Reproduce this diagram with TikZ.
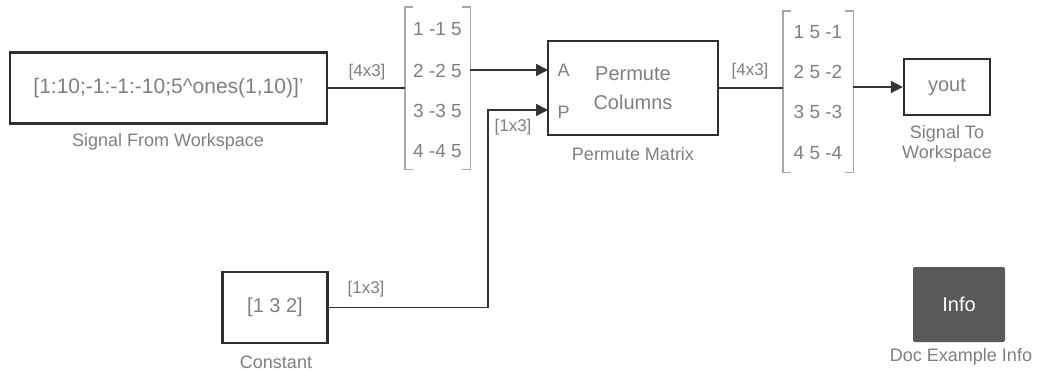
\documentclass[tikz,border=0pt]{standalone}
\usepackage{fontspec}
\setmainfont{Liberation Sans}
\usepackage{xcolor}
\usepackage{tikz}
\usetikzlibrary{arrows.meta,positioning,calc}

\definecolor{txtgray}{HTML}{7F7F7F}
\definecolor{blkline}{HTML}{2E2E2E}
\definecolor{wire}{HTML}{333333}
\definecolor{brkgray}{HTML}{A8A8A8}
\definecolor{infofill}{HTML}{595959}

\begin{document}
\begin{tikzpicture}[x=1pt, y=-1pt,
  every node/.style={font=\fontsize{18}{20}\selectfont, text=txtgray},
  blk/.style={draw=blkline, line width=2.2pt, fill=white, inner sep=0pt,
    font=\fontsize{20}{29}\selectfont},
  sig/.style={draw=wire, line width=1.6pt},
  sigarr/.style={sig, -{Triangle[length=12pt,width=12pt]}},
  dimlbl/.style={font=\fontsize{17}{19}\selectfont},
  rowtxt/.style={font=\fontsize{19}{21}\selectfont},
  brk/.style={draw=brkgray, line width=1.4pt}]
  \useasboundingbox (0,0) rectangle (1037,370);

  % Signal From Workspace
  \node[blk, minimum width=317pt, minimum height=71pt, font=\fontsize{21}{23}\selectfont] (sfw) at (168.5,88)
    {[1:10;-1:-1:-10;5\textasciicircum ones(1,10)]'};
  \node (sfwlbl) at (168,142) {Signal From Workspace};

  % Constant
  \node[blk, minimum width=105pt, minimum height=71pt] (const) at (275,307.5) {[1 3 2]};
  \node (constlbl) at (276,362) {Constant};

  % Permute Matrix
  \node[blk, minimum width=170pt, minimum height=94pt, align=center] (perm) at (633,88)
    {Permute\\Columns};
  \node (permlbl) at (633,154) {Permute Matrix};
  \coordinate (portA) at (548,70);
  \coordinate (portP) at (548,110);
  \node[right=6pt of portA] (lblA) {A};
  \node[right=6pt of portP, yshift=-2pt] (lblP) {P};

  % Signal To Workspace
  \node[blk, minimum width=86pt, minimum height=56pt] (yout) at (947,87) {yout};
  \node[align=center] (youtlbl) at (947,144) {Signal To\\Workspace};

  % Doc Example Info
  \node[fill=infofill, rounded corners=2pt, minimum width=92pt, minimum height=75pt,
    text=white, font=\fontsize{20}{22}\selectfont] (info) at (959,304.5) {Info};
  \node (infolbl) at (961,357) {Doc Example Info};

  % Matrix displays
  \node[minimum width=65pt, minimum height=162pt, inner sep=0pt] (mat1) at (437.5,88) {};
  \node[minimum width=70pt, minimum height=161pt, inner sep=0pt] (mat2) at (818,91.5) {};
  \foreach \m in {mat1,mat2}{
    \draw[brk] ([xshift=8pt]\m.north west) -- (\m.north west) -- (\m.south west) -- ([xshift=8pt]\m.south west);
    \draw[brk] ([xshift=-8pt]\m.north east) -- (\m.north east) -- (\m.south east) -- ([xshift=-8pt]\m.south east);
  }
  \foreach \r/\yy in {{1 -1 5}/29, {2 -2 5}/71, {3 -3 5}/111, {4 -4 5}/151}
    \node[rowtxt] at (437.5,\yy) {\r};
  \foreach \r/\yy in {{1 5 -1}/32, {2 5 -2}/72, {3 5 -3}/112, {4 5 -4}/153}
    \node[rowtxt] at (818,\yy) {\r};

  % Signal lines
  \coordinate (bendP) at (488,110);
  \draw[sig] (sfw.east) -- (sfw.east -| mat1.west);
  \draw[sigarr] (mat1.east |- portA) -- (portA);
  \draw[sigarr] (const.east) -| (bendP) -- (portP);
  \draw[sig] (perm.east) -- (perm.east -| mat2.west);
  \draw[sigarr] (mat2.east |- yout.west) -- (yout.west);

  % Dimension labels
  \node[dimlbl] (dim1) at (367,72) {[4x3]};
  \node[dimlbl] (dim2) at (513,127) {[1x3]};
  \node[dimlbl] (dim3) at (366,289) {[1x3]};
  \node[dimlbl] (dim4) at (750,71) {[4x3]};
\end{tikzpicture}
\end{document}
